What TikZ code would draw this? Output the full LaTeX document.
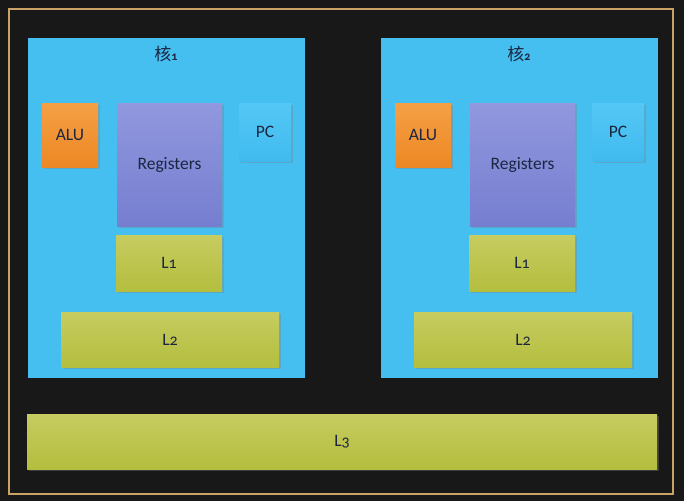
\documentclass[tikz,border=0pt]{standalone}
\usepackage{fontspec}
\setmainfont[Numbers=OldStyle]{Carlito}
\newfontfamily\cjk{Noto Sans CJK SC}
\usetikzlibrary{shadows}
\definecolor{bg}{HTML}{181818}
\definecolor{gold}{HTML}{C9A266}
\definecolor{coreblue}{HTML}{45BEF0}
\definecolor{txt}{HTML}{1C2640}
\tikzset{
  unit/.style={minimum width=#1, inner sep=0pt, font=\fontsize{17.5}{17.5}\selectfont, text=txt,
    drop shadow={opacity=0.35, shadow xshift=1.5pt, shadow yshift=-1.5pt}},
  corebox/.style={fill=coreblue, draw=none},
  alubox/.style={top color={rgb,255:red,245;green,160;blue,70}, bottom color={rgb,255:red,236;green,136;blue,36}},
  regbox/.style={top color={rgb,255:red,145;green,152;blue,222}, bottom color={rgb,255:red,118;green,126;blue,208}},
  pcbox/.style={top color={rgb,255:red,84;green,200;blue,246}, bottom color={rgb,255:red,64;green,186;blue,238}},
  cachebox/.style={top color={rgb,255:red,198;green,204;blue,96}, bottom color={rgb,255:red,180;green,190;blue,62}},
  title/.style={font=\cjk\fontsize{17}{17}\selectfont, text=txt}
}
\newcommand{\sub}[1]{L{\fontsize{16}{16}\selectfont #1}}
\begin{document}
\begin{tikzpicture}[x=1pt,y=-1pt]
\fill[bg] (0,0) rectangle (684,501);
\useasboundingbox (0,0) rectangle (684,501);
\draw[gold, line width=1.2pt] (9,9) rectangle (673,494);
% core 1
\node[corebox, minimum width=277pt, minimum height=340pt, inner sep=0pt] (c1) at (166.5,207.5) {};
\node[title] (t1) at (166,54) {核{\fontsize{12}{12}\selectfont\bfseries\rmfamily 1}};
\node[unit=56pt, alubox, minimum height=64pt] (alu1) at (70,135) {ALU};
\node[unit=105pt, regbox, minimum height=123pt] (reg1) at (169.5,164.5) {Registers};
\node[unit=52pt, pcbox, minimum height=58pt] (pc1) at (265,132) {PC};
\node[unit=106pt, cachebox, minimum height=56pt] (l11) at (169,263) {\sub{1}};
\node[unit=218pt, cachebox, minimum height=55pt] (l21) at (170,339.5) {\sub{2}};
% core 2
\node[corebox, minimum width=277pt, minimum height=340pt, inner sep=0pt] (c2) at (519.5,207.5) {};
\node[title] (t2) at (519,54) {核{\fontsize{12}{12}\selectfont\bfseries\rmfamily 2}};
\node[unit=56pt, alubox, minimum height=64pt] (alu2) at (423,135) {ALU};
\node[unit=105pt, regbox, minimum height=123pt] (reg2) at (522.5,164.5) {Registers};
\node[unit=52pt, pcbox, minimum height=58pt] (pc2) at (618,132) {PC};
\node[unit=106pt, cachebox, minimum height=56pt] (l12) at (522,263) {\sub{1}};
\node[unit=218pt, cachebox, minimum height=55pt] (l22) at (523,339.5) {\sub{2}};
% L3
\node[unit=630pt, cachebox, minimum height=55pt] (l3) at (342,441.5) {\sub{3}};
\end{tikzpicture}
\end{document}
